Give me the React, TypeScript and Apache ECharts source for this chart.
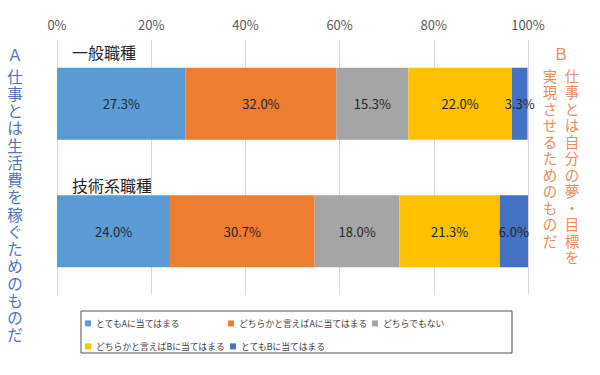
import React, { useEffect, useRef } from "react";
import * as echarts from "echarts";

const categories = ["一般職種", "技術系職種"];
const seriesNames = [
  "とてもAに当てはまる",
  "どちらかと言えばAに当てはまる",
  "どちらでもない",
  "どちらかと言えばBに当てはまる",
  "とてもBに当てはまる",
];
const veryA = [27.3, 24.0];
const ratherA = [32.0, 30.7];
const neither = [15.3, 18.0];
const ratherB = [22.0, 21.3];
const veryB = [3.3, 6.0];
const seriesValues = [veryA, ratherA, neither, ratherB, veryB];
const colors = ["#5B9BD5", "#ED7D31", "#A5A5A5", "#FFC000", "#4472C4"];
const leftHead = "Ａ";
const leftTitle = "仕事とは生活費を稼ぐためのものだ";
const rightHead = "Ｂ";
const rightCol1 = "仕事とは自分の夢・目標を";
const rightCol2 = "実現させるためのものだ";

const FONT = "'Noto Sans CJK JP', 'Noto Sans', sans-serif";
const FONT_TIGHT = "'Liberation Sans', 'Noto Sans CJK JP', sans-serif";

export default function App() {
  const ref = useRef<HTMLDivElement>(null);
  useEffect(() => {
    if (!ref.current) return;
    const chart = echarts.init(ref.current, undefined, { renderer: "svg" });
    const legendPos = [
      { left: 85, top: 319 },
      { left: 228, top: 319 },
      { left: 372, top: 319 },
      { left: 85, top: 342 },
      { left: 230, top: 342 },
    ];
    const vertChars = (
      s: string,
      x: number,
      y0: number,
      step: number,
      size: number,
      color: string,
      family: string
    ) =>
      Array.from(s).map((ch, k) => ({
        type: "text",
        x,
        y: y0 + k * step,
        silent: true,
        style: {
          text: ch,
          fontSize: size,
          fill: color,
          fontFamily: family,
          align: "center",
          verticalAlign: "middle",
        },
      }));
    chart.setOption({
      animation: false,
      backgroundColor: "#ffffff",
      textStyle: { fontFamily: FONT },
      grid: { left: 57, right: 72, top: 40, bottom: 80, containLabel: false },
      xAxis: {
        type: "value",
        position: "top",
        min: 0,
        max: 100,
        interval: 20,
        axisLabel: {
          formatter: "{value}%",
          color: "#595959",
          fontSize: 13,
          margin: 9,
          fontFamily: FONT,
        },
        axisLine: { show: false },
        axisTick: { show: false },
        splitLine: { show: true, lineStyle: { color: "#D9D9D9", width: 1 } },
      },
      yAxis: {
        type: "category",
        data: categories,
        inverse: true,
        axisLine: { show: false },
        axisTick: { show: false },
        axisLabel: { show: false },
      },
      legend: legendPos.map((p, i) => ({
        data: [seriesNames[i]],
        left: p.left,
        top: p.top,
        orient: "horizontal",
        itemWidth: 6,
        itemHeight: 6,
        itemGap: 4,
        icon: "rect",
        padding: 0,
        textStyle: { fontSize: 8.8, color: "#404040", fontFamily: FONT },
      })),
      series: seriesNames.map((name, i) => ({
        name,
        type: "bar",
        stack: "total",
        barWidth: 72,
        data: seriesValues[i],
        itemStyle: { color: colors[i] },
        label: {
          show: true,
          position: "inside",
          color: "#262626",
          fontSize: 13,
          fontFamily: FONT,
          formatter: (p: any) => p.value.toFixed(1) + "%",
        },
      })),
      graphic: [
        {
          type: "rect",
          shape: { x: 81, y: 311, width: 431, height: 42 },
          style: { fill: "none", stroke: "#505050", lineWidth: 1 },
          silent: true,
        },
        {
          type: "text",
          x: 72,
          y: 52,
          style: {
            text: categories[0],
            fontSize: 16,
            fill: "#262626",
            fontFamily: FONT,
            verticalAlign: "middle",
          },
        },
        {
          type: "text",
          x: 72,
          y: 185,
          style: {
            text: categories[1],
            fontSize: 16,
            fill: "#262626",
            fontFamily: FONT,
            verticalAlign: "middle",
          },
        },
        ...vertChars(leftHead, 15, 55, 17.3, 15.5, "#4F74BE", FONT_TIGHT),
        ...vertChars(leftTitle, 15, 77, 17.25, 15.5, "#4F74BE", FONT_TIGHT),
        ...vertChars(rightHead, 561, 54, 16.45, 15.5, "#EA8D5A", FONT_TIGHT),
        ...vertChars(rightCol1, 572, 77, 16.45, 14.5, "#EA8D5A", FONT_TIGHT),
        ...vertChars(rightCol2, 550, 77, 16.45, 14.5, "#EA8D5A", FONT_TIGHT),
      ],
    });
    return () => chart.dispose();
  }, []);
  return <div ref={ref} style={{ width: 600, height: 375, position: "absolute", left: 0, top: 0 }} />;
}
